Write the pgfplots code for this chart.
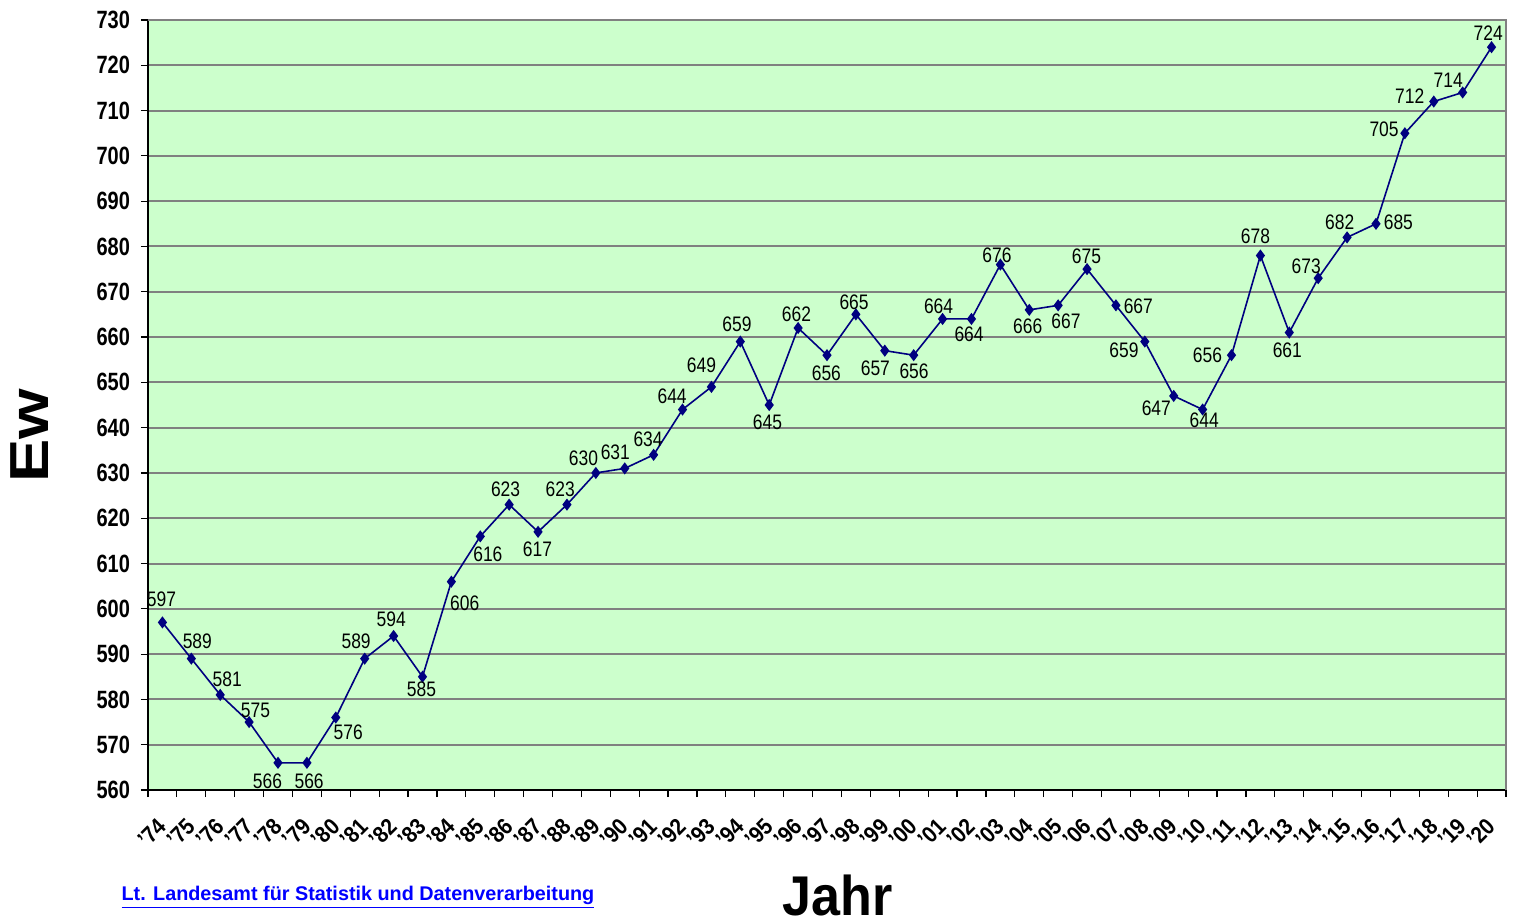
\documentclass[border=0pt]{standalone}
\usepackage{pgfplots}
\pgfplotsset{compat=1.18}
\usepackage{pgfplotstable}
\usepackage{fontspec}
\setmainfont{Liberation Sans}
\newfontfamily\narrow[FakeStretch=0.8]{Liberation Sans}
\newfontfamily\xlabfont[FakeStretch=0.9]{Liberation Sans}
\newfontfamily\lblfont[FakeStretch=0.83]{Liberation Sans}
\newfontfamily\ewfont[FakeStretch=1.18]{Liberation Sans}
\newfontfamily\jahrfont[FakeStretch=0.93]{Liberation Sans}
\definecolor{bggreen}{HTML}{CCFFCC}
\definecolor{navyline}{HTML}{000080}
\definecolor{gridgray}{HTML}{808080}
\tikzset{lblshift/.code args={#1/#2}{\tikzset{xshift=#1bp,yshift=#2bp}}}

% year index, value, label offset (x/y in bp) from the point
\pgfplotstableread{
idx val off
0 597 -0.5/11.7
1 589 3.0/8.8
2 581 3.5/8.0
3 575 3.2/5.8
4 566 -5.3/-9.2
5 566 1.1/-9.2
6 576 6.2/-7.5
7 589 -4.3/8.8
8 594 -1.2/8.4
9 585 -0.5/-6.4
10 606 6.7/-10.8
11 616 3.8/-9.2
12 623 -1.8/7.7
13 617 -0.3/-8.9
14 623 -3.4/7.7
15 630 -6.2/7.5
16 631 -4.7/8.0
17 634 -2.8/7.9
18 644 -5.2/6.7
19 649 -5.0/11.0
20 659 -1.7/8.7
21 645 -0.9/-8.4
22 662 -0.8/7.0
23 656 -0.3/-8.8
24 665 -0.9/5.9
25 657 -4.7/-8.8
26 656 0.2/-8.0
27 664 -2.0/6.3
28 664 -1.2/-7.9
29 676 -1.7/4.7
30 666 -0.8/-8.4
31 667 3.9/-8.0
32 675 -0.3/6.3
33 667 11.2/-0.4
34 659 -10.4/-4.2
35 647 -8.7/-6.2
36 644 0.8/-5.4
37 656 -12.0/0.0
38 678 -2.5/9.7
39 661 -1.0/-8.7
40 673 -6.0/6.2
41 682 -3.7/7.8
42 685 11.2/0.8
43 705 -10.4/2.0
44 712 -12.0/2.5
45 714 -7.2/6.2
46 724 -1.7/7.0
}\ewdata

\begin{document}
\begin{tikzpicture}
\useasboundingbox (-74bp,-67bp) rectangle (686.5bp,395bp);
\begin{axis}[
  name=ax,
  at={(0,0)}, anchor=south west,
  scale only axis,
  width=679bp, height=385bp,
  xmin=-0.5, xmax=46.5, ymin=560, ymax=730,
  ytick={560,570,...,730},
  xtick={0,...,46},
  xticklabels={’74,’75,’76,’77,’78,’79,’80,’81,’82,’83,’84,’85,’86,’87,’88,’89,’90,’91,’92,’93,’94,’95,’96,’97,’98,’99,’00,’01,’02,’03,’04,’05,’06,’07,’08,’09,’10,’11,’12,’13,’14,’15,’16,’17,’18,’19,’20},
  minor xtick={-0.5,0.5,...,46.5},
  major x tick style={draw=none},
  minor x tick style={black, line width=0.6bp},
  major y tick style={black, line width=0.6bp},
  tick align=outside,
  major tick length=3.5bp,
  minor tick length=3.5bp,
  axis x line*=bottom,
  axis y line*=left,
  axis line style={black, line width=0.8bp, -},
  axis background/.style={fill=bggreen},
  ymajorgrids,
  grid style={gridgray, line width=1bp},
  yticklabel style={font=\narrow\bfseries\fontsize{12.5bp}{14bp}\selectfont, xshift=-2bp},
  xticklabel style={font=\xlabfont\bfseries\fontsize{11.5bp}{13bp}\selectfont, xshift=-5.2bp, yshift=-18bp, rotate=45, anchor=center, inner sep=0pt},
  /pgf/number format/assume math mode=true,
  clip=false,
]
\draw[gridgray, line width=1bp] (rel axis cs:0,1) -- (rel axis cs:1,1) -- (rel axis cs:1,0);
\addplot[
  navyline, line width=0.8bp,
  mark=diamond*, mark size=2.4bp, mark options={fill=navyline, draw=navyline},
  point meta=explicit symbolic,
  visualization depends on={y \as \yval},
  nodes near coords={\pgfmathprintnumber[assume math mode=true, fixed, precision=0]{\yval}},
  every node near coord/.append style={anchor=center, lblshift/.expand once=\pgfplotspointmeta, inner sep=0pt, font=\lblfont\fontsize{10.5bp}{12bp}\selectfont, text=black},
] table[x=idx, y=val, meta=off] {\ewdata};
\end{axis}
\node[rotate=90, inner sep=0pt, font=\ewfont\bfseries\fontsize{27.5bp}{32bp}\selectfont] at (-59.25bp,177bp) {Ew};
\node[anchor=base, inner sep=0pt, font=\jahrfont\bfseries\fontsize{28bp}{32bp}\selectfont] at (344.75bp,-62.5bp) {Jahr};
\node[font=\bfseries\fontsize{9.9bp}{12bp}\selectfont, text=blue] at (105bp,-53.5bp) {\underline{Lt. Landesamt für Statistik und Datenverarbeitung}};
\end{tikzpicture}
\end{document}
